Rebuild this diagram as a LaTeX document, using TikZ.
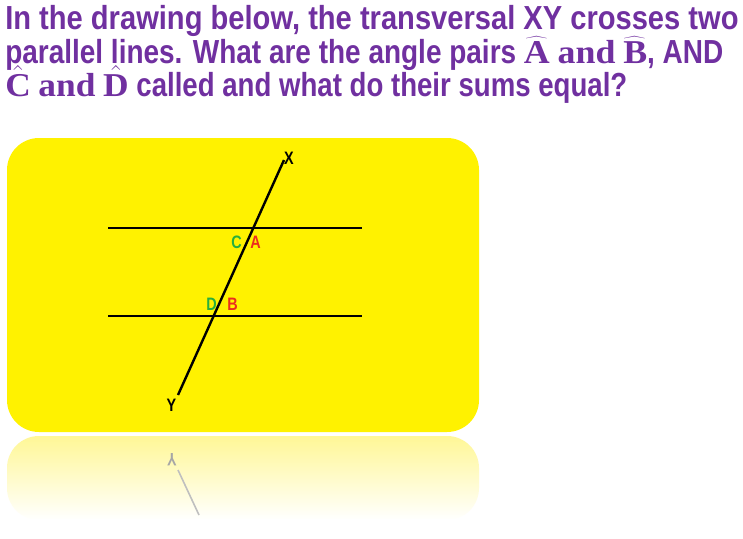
\documentclass[tikz,border=0pt]{standalone}
\usepackage[no-math]{fontspec}
\usepackage{graphicx}
\setmainfont{Liberation Sans}
\newfontfamily\titlefont[FakeStretch=0.78]{Liberation Sans}
\newfontfamily\labelfont[FakeStretch=0.8]{Liberation Sans}
\newfontfamily\serifhat{Liberation Serif}
\definecolor{titlepurple}{RGB}{112,48,160}
\definecolor{boxyellow}{RGB}{255,242,0}
\definecolor{refyellow}{RGB}{255,247,150}
\definecolor{lblgreen}{RGB}{40,175,60}
\definecolor{lblred}{RGB}{235,45,30}
\newcommand{\fitw}[2]{\resizebox{#1}{\height}{#2}}
\newcommand{\wh}[1]{\ensuremath{\widehat{\hbox{\serifhat\bfseries #1}}}}
\newcommand{\nh}[1]{\ensuremath{\hat{\hbox{\serifhat\bfseries #1}}}}
\begin{document}
\begin{tikzpicture}[x=0.75pt,y=-0.75pt,
  titleline/.style={anchor=base west,inner sep=0pt,text=titlepurple,font=\titlefont\bfseries\fontsize{25}{30}\selectfont},
  geoline/.style={line width=1.8pt,black},
  lbl/.style={inner sep=0pt,text depth=0pt,font=\labelfont\bfseries\fontsize{13.5}{16}\selectfont}]
\useasboundingbox (0,0) rectangle (743,539);
\fill[white] (0,0) rectangle (743,539);
% title
\node[titleline] (t1) at (5,29.5) {\fitw{550pt}{In the drawing below, the transversal XY crosses two}};
\node[titleline] (t2) at (5,63) {\fitw{538.5pt}{parallel lines. What are the angle pairs \wh{A} {\serifhat and} \wh{B}, AND}};
\node[titleline] (t3) at (5,96.5) {\fitw{466.5pt}{\nh{C} {\serifhat and} \nh{D} called and what do their sums equal?}};
% reflection
\shade[top color=refyellow,bottom color=white,rounded corners=24]
  (7,520) -- (7,436) -- (479,436) -- (479,520) -- cycle;
\fill[white] (0,519) rectangle (743,539);
% yellow panel
\fill[boxyellow,rounded corners=24] (7,138) rectangle (479,432);
% lines
\coordinate (L1a) at (108,228); \coordinate (L1b) at (362,228);
\coordinate (L2a) at (108,316); \coordinate (L2b) at (362,316);
\coordinate (Xe) at (284,160); \coordinate (Ye) at (178,395);
\draw[geoline] (L1a) -- (L1b);
\draw[geoline] (L2a) -- (L2b);
\draw[geoline] (Ye) -- (Xe);
% labels
\node[lbl] (X) at (289,158.5) {X};
\node[lbl] (Y) at (171.5,405.5) {Y};
\node[lbl,text=lblgreen] (C) at (236.5,242) {C};
\node[lbl,text=lblred] (A) at (255.5,242) {A};
\node[lbl,text=lblgreen] (D) at (211.5,304) {D};
\node[lbl,text=lblred] (B) at (232.5,304) {B};
% reflected Y
\coordinate (rY1) at (178,470); \coordinate (rY2) at (199,515);
\draw[line width=1.2pt,black!25] (rY1) -- (rY2);
\node[lbl,text=black!35,yscale=-1] (rY) at (172,460) {Y};
\end{tikzpicture}
\end{document}
